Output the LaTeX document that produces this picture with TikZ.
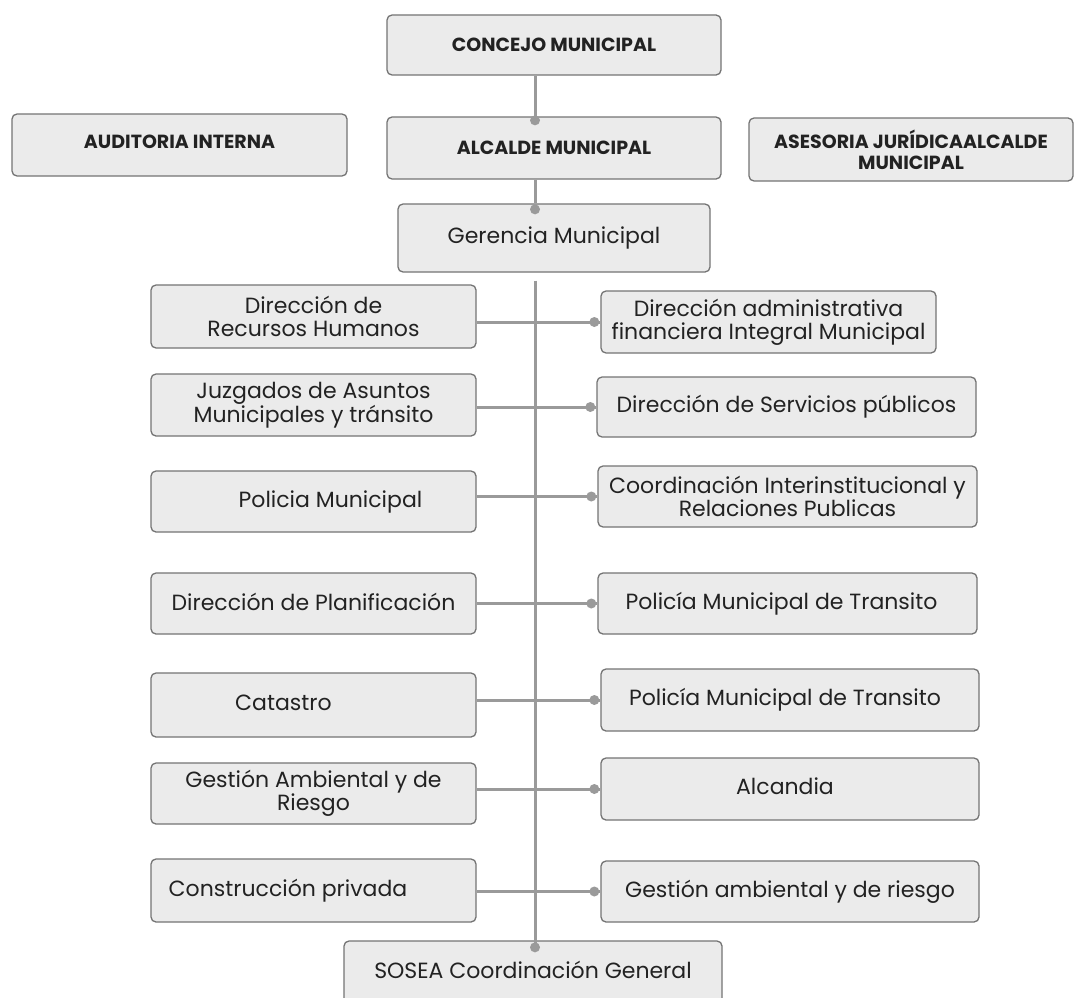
\documentclass[tikz,border=0pt]{standalone}
\usepackage{fontspec}
\setmainfont{Poppins}
\definecolor{boxfill}{HTML}{EBEBEB}
\definecolor{boxline}{HTML}{747474}
\definecolor{linkgray}{HTML}{9A9A9A}
\definecolor{txt}{HTML}{222222}
\newcommand\upby[2]{\raisebox{#1}{#2}}
\begin{document}
\begin{tikzpicture}[x=1pt,y=-1pt,
  box/.style={draw=boxline, fill=boxfill, rounded corners=5pt, line width=1.3pt, align=center, inner sep=0pt, text=txt},
  head/.style={box, font=\fontsize{19}{21}\selectfont\bfseries},
  unit/.style={box, font=\fontsize{22}{23}\selectfont},
  link/.style={draw=linkgray, line width=3pt},
  dot/.style={circle, fill=linkgray, inner sep=0pt, minimum size=10pt}]
\fill[white] (0,0) rectangle (1076,998);
\useasboundingbox (0,0) rectangle (1076,998);
\clip (0,0) rectangle (1076,998);
\coordinate (spine) at (535,0);
% top boxes
\node[head, minimum width=334pt, minimum height=60pt] (concejo) at (554,45) {CONCEJO MUNICIPAL};
\node[head, minimum width=334pt, minimum height=62pt] (alcalde) at (554,148) {\upby{-4pt}{ALCALDE MUNICIPAL}};
\node[head, minimum width=335pt, minimum height=62pt] (auditoria) at (179.5,145) {\upby{7pt}{AUDITORIA INTERNA}};
\node[head, minimum width=324pt, minimum height=63pt] (asesoria) at (911,149.5) {ASESORIA JURÍDICAALCALDE\\MUNICIPAL};
\node[unit, minimum width=312pt, minimum height=68pt] (gerencia) at (554,238) {\upby{5pt}{Gerencia Municipal}};
% left column
\node[unit, minimum width=325pt, minimum height=63pt] (l1) at (313.5,316.5) {Dirección de\\Recursos Humanos};
\node[unit, minimum width=325pt, minimum height=62pt] (l2) at (313.5,405) {Juzgados de Asuntos\\Municipales y tránsito};
\node[unit, minimum width=325pt, minimum height=61pt] (l3) at (313.5,501.5) {\hspace*{34pt}\upby{2pt}{Policia Municipal}};
\node[unit, minimum width=325pt, minimum height=61pt] (l4) at (313.5,603.5) {\upby{4pt}{Dirección de Planificación}};
\node[unit, minimum width=325pt, minimum height=64pt] (l5) at (313.5,705) {\upby{5pt}{Catastro}\hspace*{60pt}};
\node[unit, minimum width=325pt, minimum height=61pt] (l6) at (313.5,793.5) {Gestión Ambiental y de\\Riesgo};
\node[unit, minimum width=325pt, minimum height=63pt] (l7) at (313.5,890.5) {Construcción privada\hspace*{51pt}};
% right column
\node[unit, minimum width=335pt, minimum height=62pt] (r1) at (768.5,322) {Dirección administrativa\\financiera Integral Municipal};
\node[unit, minimum width=379pt, minimum height=60pt] (r2) at (786.5,407) {\upby{5pt}{Dirección de Servicios públicos}};
\node[unit, minimum width=379pt, minimum height=61pt] (r3) at (787.5,496.5) {Coordinación Interinstitucional y\\Relaciones Publicas};
\node[unit, minimum width=379pt, minimum height=61pt] (r4) at (787.5,603.5) {\upby{5pt}{Policía Municipal de Transito}\hspace*{12pt}};
\node[unit, minimum width=378pt, minimum height=62pt] (r5) at (790,700) {\upby{5pt}{Policía Municipal de Transito}\hspace*{10pt}};
\node[unit, minimum width=378pt, minimum height=62pt] (r6) at (790,789) {\upby{5pt}{Alcandia}\hspace*{10pt}};
\node[unit, minimum width=378pt, minimum height=61pt] (r7) at (790,891.5) {Gestión ambiental y de riesgo};
% bottom
\node[unit, minimum width=378pt, minimum height=64pt] (sosea) at (533,973) {\upby{6pt}{SOSEA Coordinación General}};
% vertical connectors
\draw[link] (concejo.south -| spine) -- (alcalde.north -| spine);
\node[dot] (d1) at ([yshift=-4pt]alcalde.north -| spine) {};
\draw[link] (alcalde.south -| spine) -- (gerencia.north -| spine);
\node[dot] (d2) at ([yshift=-6pt]gerencia.north -| spine) {};
\coordinate (sp0) at ([yshift=-8pt]gerencia.south -| spine);
\node[dot] (d3) at ([yshift=-7pt]sosea.north -| spine) {};
\draw[link] (sp0) -- (d3.center);
% horizontal connectors
\foreach \i in {1,...,7}{
  \draw[link] (l\i.east |- r\i.west) -- (r\i.west);
  \node[dot] (hd\i) at ([xshift=-6pt]r\i.west) {};
}
\end{tikzpicture}
\end{document}
